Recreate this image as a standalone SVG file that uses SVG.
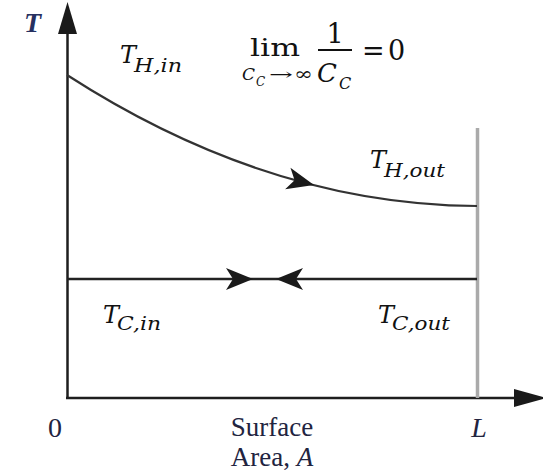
<svg xmlns="http://www.w3.org/2000/svg" width="543" height="475" viewBox="0 0 543 475">
<style>
.ax{stroke:#1e1e1e;stroke-width:2.5;fill:none}
.curve{stroke:#333;stroke-width:2.2;fill:none}
.cold{stroke:#222;stroke-width:2.5;fill:none}
.wall{stroke:#aaa;stroke-width:3.5}
.ah{fill:#1a1a1a}
.m{font-family:"DejaVu Serif","Liberation Serif",serif;font-style:italic;fill:#111}
.u{font-family:"DejaVu Serif","Liberation Serif",serif;fill:#111}
.lab{font-family:"Liberation Serif",serif;fill:#22243f}
</style>
<defs>
<path id="barb" d="M0,0 L-27,-11 L-20,0 L-27,11 Z"/>
</defs>
<g id="axes">
<path class="ax" d="M67.5,398 V30"/>
<polygon class="ah" points="67.5,2 58,34 77,34"/>
<path class="ax" d="M66,398 H518"/>
<polygon class="ah" points="547,398 514,389 514,407"/>
<line class="wall" x1="477.5" y1="128" x2="477.5" y2="398"/>
</g>
<g id="connectors">
<path id="hot" class="curve" d="M67,75 C160,135 300,205 477,206"/>
<use href="#barb" class="ah" transform="translate(314,185) rotate(14)"/>
<path id="coldline" class="cold" d="M67,279 H477"/>
<use href="#barb" class="ah" transform="translate(253,279)"/>
<use href="#barb" class="ah" transform="translate(276,279) rotate(180)"/>
</g>
<g id="label-T">
<text x="24" y="32" font-family="Liberation Serif" font-style="italic" font-weight="bold" font-size="28" fill="#263060">T</text>
</g>
<g id="label-THin">
<text class="m" x="120" y="63" font-size="24">T</text>
<text class="m" x="134" y="72" font-size="18" textLength="48" lengthAdjust="spacingAndGlyphs">H,in</text>
</g>
<g id="label-lim">
<text class="u" x="250" y="56" font-size="25" textLength="50" lengthAdjust="spacingAndGlyphs">lim</text>
<text class="m" x="242" y="80" font-size="17">C</text>
<text class="m" x="256" y="86" font-size="12">C</text>
<text class="u" x="269" y="80" font-size="16" textLength="24" lengthAdjust="spacingAndGlyphs">→</text>
<text class="u" x="294" y="80" font-size="18" textLength="19" lengthAdjust="spacingAndGlyphs">∞</text>
<text class="u" x="335" y="43" font-size="27" text-anchor="middle">1</text>
<line x1="318" y1="50" x2="352" y2="50" stroke="#111" stroke-width="2"/>
<text class="m" x="317" y="82" font-size="26">C</text>
<text class="m" x="339" y="89" font-size="16">C</text>
<text class="u" x="362" y="60" font-size="27">=</text>
<text class="u" x="388" y="60" font-size="27">0</text>
</g>
<g id="label-THout">
<text class="m" x="370" y="168" font-size="24">T</text>
<text class="m" x="384" y="177" font-size="18" textLength="61" lengthAdjust="spacingAndGlyphs">H,out</text>
</g>
<g id="label-TCin">
<text class="m" x="103" y="323" font-size="24">T</text>
<text class="m" x="117" y="330" font-size="18" textLength="44" lengthAdjust="spacingAndGlyphs">C,in</text>
</g>
<g id="label-TCout">
<text class="m" x="378" y="323" font-size="24">T</text>
<text class="m" x="392" y="330" font-size="18" textLength="58" lengthAdjust="spacingAndGlyphs">C,out</text>
</g>
<g id="axis-labels">
<text class="lab" x="55" y="437" font-size="28" text-anchor="middle">0</text>
<text class="lab" x="272" y="436" font-size="27" text-anchor="middle">Surface</text>
<text class="lab" x="272" y="466" font-size="27" text-anchor="middle">Area, <tspan font-style="italic">A</tspan></text>
<text class="lab" x="479" y="437" font-size="28" font-style="italic" text-anchor="middle">L</text>
</g>
</svg>
